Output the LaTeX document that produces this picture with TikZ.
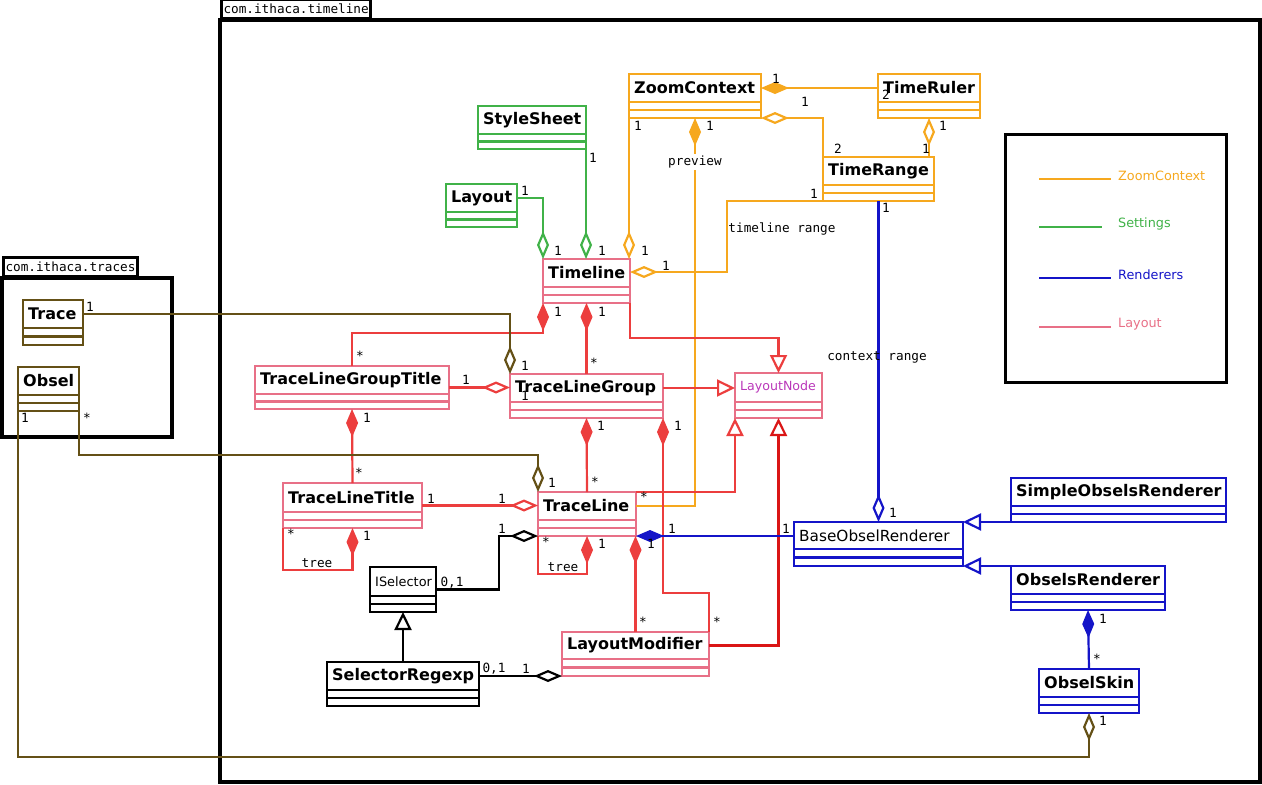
\documentclass[tikz,border=0pt]{standalone}
\usepackage{fontspec}
\setmainfont{DejaVu Sans}
\setmonofont{DejaVu Sans Mono}
\usetikzlibrary{arrows.meta}

\definecolor{zoomorange}{RGB}{246,168,30}
\definecolor{setgreen}{RGB}{64,178,72}
\definecolor{rendblue}{RGB}{20,20,200}
\definecolor{laypink}{RGB}{232,112,135}
\definecolor{layred}{RGB}{236,62,62}
\definecolor{darkred}{RGB}{218,22,22}
\definecolor{tracebrown}{RGB}{100,80,22}
\definecolor{nodepurple}{RGB}{185,55,185}

\tikzset{
	classbox/.style={rectangle, inner sep=0pt, outer sep=0pt, anchor=north west, line width=2.2pt},
	clsname/.style={anchor=west, inner sep=0pt, font=\fontsize{16}{18}\selectfont\bfseries},
	mult/.style={inner sep=0pt, font=\fontsize{12.7}{14}\selectfont\ttfamily},
	pkg/.style={line width=4pt},
	pkgtab/.style={draw, line width=3pt, anchor=south west, inner xsep=2pt, inner ysep=0pt, minimum height=19pt, font=\fontsize{12.7}{14}\selectfont\ttfamily},
	assoc/.style={line width=2.2pt},
	aggr/.style={-{Diamond[open, length=28pt, width=12pt]}},
	comp/.style={-{Diamond[length=28pt, width=12pt]}},
	inh/.style={-{Triangle[open, length=18pt, width=17pt]}},
	legtext/.style={anchor=west, inner sep=0pt, font=\fontsize{12.8}{14}\selectfont}
}

% name, colour, left, top, right, name line, bottom, title
\newcommand{\umlclass}[8]{%
	\node [classbox, draw=#2, minimum width=#5pt-#3pt, minimum height=#7pt-#4pt] (#1) at (#3,#4) {};
	\draw [#2, line width=2.2pt] (#3,#6) -- (#5,#6) (#3,{(#6+#7)/2}) -- (#5,{(#6+#7)/2});
	\node [clsname] (#1-title) at (#3+5,{(#4+#6)/2}) {#8};
}

\begin{document}
\begin{tikzpicture}[x=1pt, y=-1pt]
	\useasboundingbox (0,0) rectangle (1262,785);
	
	% packages
	\draw [pkg] (220,20) rectangle (1260,782);
	\node [pkgtab] (tl-tab) at (220,20) {com.ithaca.timeline};
	\draw [pkg] (2,278) rectangle (172,437);
	\node [pkgtab] (tr-tab) at (2,278) {com.ithaca.traces};
	
	% legend
	\draw [line width=3pt] (1005,134) rectangle (1226,382);
	\foreach \y/\w/\c/\t [count=\i] in {179/1111/zoomorange/ZoomContext, 227/1102/setgreen/Settings, 278/1111/rendblue/Renderers, 327/1111/laypink/Layout}{
		\coordinate (leg\i) at (1039,\y);
		\draw [assoc, \c] (leg\i) -- (\w,\y);
		\node [legtext, text=\c] (legt\i) at (1118,\y-3) {\t};
	}
	
	% classes
	\umlclass{Trace}{tracebrown}{23}{300}{83}{328}{345}{Trace}
	\umlclass{Obsel}{tracebrown}{18}{367}{79}{395}{411}{Obsel}
	\umlclass{ZoomContext}{zoomorange}{629}{74}{761}{102}{118}{ZoomContext}
	\umlclass{TimeRuler}{zoomorange}{878}{74}{980}{102}{118}{TimeRuler}
	\umlclass{TimeRange}{zoomorange}{823}{157}{934}{185}{201}{TimeRange}
	\umlclass{StyleSheet}{setgreen}{478}{106}{586}{134}{149}{StyleSheet}
	\umlclass{Layout}{setgreen}{446}{184}{517}{212}{227}{Layout}
	\umlclass{Timeline}{laypink}{543}{259}{630}{287}{303}{Timeline}
	\umlclass{TLGT}{laypink}{255}{366}{449}{394}{409}{TraceLineGroupTitle}
	\umlclass{TLG}{laypink}{510}{374}{663}{402}{418}{TraceLineGroup}
	\umlclass{LayoutNode}{laypink}{735}{373}{822}{402}{418}{\mdseries\fontsize{12.6}{14}\selectfont\color{nodepurple}LayoutNode}
	\umlclass{TLT}{laypink}{283}{483}{422}{512}{528}{TraceLineTitle}
	\umlclass{TraceLine}{laypink}{538}{492}{636}{520}{536}{TraceLine}
	\umlclass{LayoutModifier}{laypink}{562}{632}{709}{659}{676}{LayoutModifier}
	\umlclass{ISelector}{black}{370}{567}{436}{596}{612}{\mdseries\fontsize{12.9}{14}\selectfont ISelector}
	\umlclass{SR}{black}{327}{662}{479}{690}{706}{SelectorRegexp}
	\umlclass{BOR}{rendblue}{794}{522}{963}{549}{566}{\mdseries\fontsize{15.3}{18}\selectfont BaseObselRenderer}
	\umlclass{SOR}{rendblue}{1011}{478}{1226}{506}{522}{SimpleObselsRenderer}
	\umlclass{OR}{rendblue}{1011}{566}{1165}{594}{610}{ObselsRenderer}
	\umlclass{ObselSkin}{rendblue}{1039}{669}{1139}{697}{713}{ObselSkin}
	
	% zoom context
	\draw [assoc, zoomorange, aggr] (ZoomContext.south west) -- (ZoomContext.south west |- Timeline.north);
	\draw [assoc, zoomorange, aggr] (TimeRange.south west) -- (727,201) |- (Timeline.east |- 0,272);
	\draw [assoc, zoomorange, comp] (TraceLine.east |- TraceLine-title) -| (ZoomContext.south);
	\draw [assoc, zoomorange, comp] (TimeRuler.west |- ZoomContext-title) -- (ZoomContext.east |- ZoomContext-title);
	\draw [assoc, zoomorange, aggr] (TimeRange.north west) |- (ZoomContext.south east);
	\draw [assoc, zoomorange, aggr] (TimeRange.north -| TimeRuler.south) -- (TimeRuler.south);
	
	% settings
	\draw [assoc, setgreen, aggr] (Layout.east |- Layout-title) -| (Timeline.north west);
	\draw [assoc, setgreen, aggr] (StyleSheet.south east) -- (StyleSheet.south east |- Timeline.north);
	
	% layout
	\draw [assoc, layred, comp] (TLGT.north) -- ++(0,-33) -| (Timeline.south west);
	\draw [assoc, layred, comp] (TLG.north) -- (Timeline.south);
	\draw [assoc, layred, inh] (Timeline.south east) -- ++(0,35) -| (LayoutNode.north);
	\draw [assoc, layred, aggr] (TLGT.east) -- (TLG.west |- TLGT.east);
	\draw [assoc, layred, inh] (TLG.east |- TLG-title) -- (LayoutNode.west |- TLG-title);
	\draw [assoc, layred, comp] (TraceLine.north) -- (TLG.south);
	\draw [assoc, layred, comp] (LayoutModifier.north east) -- ++(0,-39) -| (TLG.south east);
	\draw [assoc, layred, comp] (TLT.north) -- (TLGT.south);
	\draw [assoc, layred, comp] (TLT.south west) -- ++(0,42) -| (TLT.south);
	\draw [assoc, layred, comp] (TraceLine.south west) -- ++(0,38) -| (TraceLine.south);
	\draw [assoc, layred, aggr] (TLT.east) -- (TraceLine.west |- TLT.east);
	\draw [assoc, layred, comp] (LayoutModifier.north) -- (LayoutModifier.north |- TraceLine.south);
	\draw [assoc, layred, inh] (TraceLine.north east) -| (LayoutNode.south west);
	\draw [assoc, darkred, inh] (LayoutModifier.east |- LayoutModifier-title) -| (LayoutNode.south);
	
	% renderers
	\draw [assoc, rendblue, comp] (BOR.west |- TraceLine.south east) -- (TraceLine.south east);
	\draw [assoc, rendblue, aggr] (TimeRange.south) -- (BOR.north);
	\draw [assoc, rendblue, inh] (SOR.south west) -- (BOR.north east);
	\draw [assoc, rendblue, inh] (OR.north west) -- (BOR.south east);
	\draw [assoc, rendblue, comp] (ObselSkin.north) -- (OR.south);
	
	% traces
	\draw [assoc, tracebrown, aggr] (Obsel.south west) -- ++(0,346) -| (ObselSkin.south);
	\draw [assoc, tracebrown, aggr] (Obsel.south east) -- ++(0,44) -| (TraceLine.north west);
	\draw [assoc, tracebrown, aggr] (Trace.east |- Trace-title) -| (TLG.north west);
	
	% selectors
	\draw [assoc, black, aggr] (ISelector.east) -| (499,536) -- (TraceLine.south west);
	\draw [assoc, black, inh] (SR.north) -- (ISelector.south);
	\draw [assoc, black, aggr] (SR.east |- SR-title) -- (LayoutModifier.south west);
	
	% role names
	\node [mult, fill=white, inner sep=2pt] (preview) at (695,162) {preview};
	\node [mult] (tlrange) at (782,229) {timeline range};
	\node [mult] (ctxrange) at (877,357) {context range};
	\node [mult] (tree1) at (317,563) {tree};
	\node [mult] (tree2) at (563,567) {tree};
	
	% multiplicities
	\foreach \x/\y/\t [count=\i] in {90/307/1, 25/418/1, 87/418/*,
		525/191/1, 593/158/1, 558/251/1, 602/251/1, 645/251/1, 666/266/1,
		638/126/1, 710/126/1, 776/79/1, 805/102/1, 838/149/2, 814/194/1,
		886/95/2, 943/126/1, 926/149/1, 886/208/1,
		360/356/*, 525/366/1, 466/380/1, 525/396/1, 367/418/1,
		558/312/1, 602/312/1, 594/363/*, 601/426/1, 678/426/1,
		359/473/*, 431/499/1, 502/499/1, 552/483/1, 291/534/*, 367/536/1, 502/529/1, 546/542/*,
		595/482/*, 644/497/*, 672/529/1, 786/529/1, 602/544/1, 651/544/1,
		452/583/{0,1}, 643/622/*, 717/622/*, 494/669/{0,1}, 526/669/1,
		893/513/1, 1103/619/1, 1097/659/*, 1103/721/1}
		\node [mult] (m\i) at (\x,\y) {\t};
	
\end{tikzpicture}
\end{document}
